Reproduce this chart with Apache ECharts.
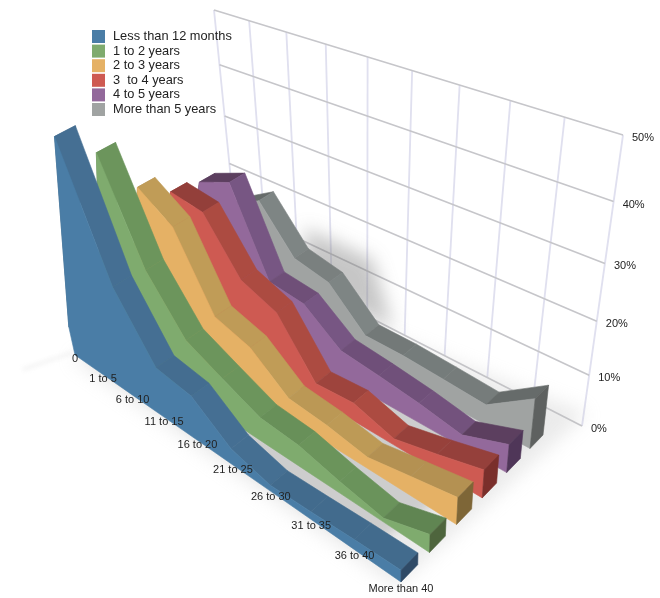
<!DOCTYPE html>
<html>
<head>
<meta charset="utf-8">
<style>html,body{margin:0;padding:0;background:#fff}#c{width:660px;height:598px}</style>
<script src="https://cdn.jsdelivr.net/npm/echarts@6/dist/echarts.min.js"></script>
</head>
<body>
<div id="c"></div>
<script>
const categories = ['0','1 to 5','6 to 10','11 to 15','16 to 20','21 to 25','26 to 30','31 to 35','36 to 40','More than 40'];
const yTicks = [0,10,20,30,40,50];
const lessThan12Months = [5,42.5,19.3,8.8,7.9,2.9,1.1,1.4,1.8,2.1];
const oneToTwoYears = [3.6,36.3,18.8,10,7.1,4.3,3.8,2.1,0.7,3.2];
const twoToThreeYears = [2.7,27,23.2,10.7,8.9,3.8,3.2,2,3.4,4.8];
const threeToFourYears = [2.7,23.2,22.7,13.9,11.6,2.7,3.2,1.1,2.9,5];
const fourToFiveYears = [2.7,22.1,25,10.4,9.8,5,4.3,3.4,2.1,5];
const moreThanFiveYears = [2.7,15.2,18.9,11.6,10.4,4.3,4.3,3.9,3.4,8.9];

const seriesDefs = [
  {name:'Less than 12 months', data:lessThan12Months, depth:0, face:'#4A7DA6', top:'#456F93', rise:'#3F6787', end:'#2F4A66'},
  {name:'1 to 2 years', data:oneToTwoYears, depth:1, face:'#7FAB6E', top:'#6C955C', rise:'#608552', end:'#4E653D'},
  {name:'2 to 3 years', data:twoToThreeYears, depth:2, face:'#E5B165', top:'#C09C57', rise:'#B08E50', end:'#7E6637'},
  {name:'3  to 4 years', data:threeToFourYears, depth:3, face:'#CE5A52', top:'#AC4B41', rise:'#933F3A', end:'#7A2F2B'},
  {name:'4 to 5 years', data:fourToFiveYears, depth:4, face:'#93699B', top:'#775683', rise:'#5C3F5F', end:'#4F3658'},
  {name:'More than 5 years', data:moreThanFiveYears, depth:5, face:'#A0A3A2', top:'#7E8584', rise:'#666B6A', end:'#5E6160'}
];

// hidden value scale: 5.6 px per percent, 50 px per category
const GRID = {left:60, top:150, width:450, height:280};
const RIBBON = 0.58, BANDS = 5.58;

// perspective helpers
const tOf = x => x <= 0 ? 0 : x / (x + 1.33 * (9 - x));
const zOf = d => { const z = d / BANDS; return 1.15 * z / (1 + 0.15 * z); };
const floor = (t, z) => {
  const sx = 75 + 150 * z, sy = 355 - 87 * z, ex = 401 + 142 * z, ey = 582 - 147 * z;
  return [sx + t * (ex - sx), sy + t * (ey - sy)];
};
const VP = [391, 1787];
const lift = (b, h) => [b[0] - (VP[0] - b[0]) / (VP[1] - b[1]) * h, b[1] - h];
const WALL = {tl:[214,10], tr:[623,135], br:[582,426], bl:[238,250]};
const fOf = v => { const a = v / 50; return a / (a + 1.185 * (1 - a)); };
const mix = (p, q, a) => [p[0] + (q[0] - p[0]) * a, p[1] + (q[1] - p[1]) * a];
const wall = (t, f) => mix(mix(WALL.bl, WALL.br, t), mix(WALL.tl, WALL.tr, t), f);
const rgb = h => [1,3,5].map(i => parseInt(h.substr(i,2),16));
const blend = (c1, c2, a) => {
  const p = rgb(c1), q = rgb(c2);
  return 'rgb(' + p.map((v, i) => Math.round(v + (q[i] - v) * a)).join(',') + ')';
};

const unit = (api, cat, val) => {
  const p = api.coord([cat, val]);
  return {t: tOf((p[0] - GRID.left) / GRID.width * 9), h: GRID.top + GRID.height - p[1]};
};
const poly = (pts, fill) => ({
  type:'polygon', shape:{points:pts},
  style:{fill, stroke:fill, lineWidth:0.6}
});
const line = (a, b, color, w) => ({
  type:'line', shape:{x1:a[0], y1:a[1], x2:b[0], y2:b[1]},
  style:{stroke:color, lineWidth:w, fill:null}
});
const label = (x, y, text, align) => ({
  type:'text', x, y,
  style:{text, fill:'#222', fontSize:11, fontFamily:'"Liberation Sans",Arial,sans-serif', align, verticalAlign:'middle'}
});
// a polygon drawn off-canvas so that only its blurred shadow lands on the page
const softShadow = (pts, color, blur) => ({
  type:'polygon', shape:{points:pts.map(p => [p[0] - 1500, p[1]])},
  style:{fill:'#000', shadowColor:color, shadowBlur:blur, shadowOffsetX:1500, shadowOffsetY:0}
});

const series = [];

// wall grid
series.push({
  type:'custom', name:'wall', silent:true, z:1, data:yTicks.map(v => [0, v]),
  renderItem(params, api) {
    const v = api.value(1), kids = [];
    const f = fOf(v);
    const L = wall(0, f), R = wall(1, f);
    kids.push(line(L, R, '#C6C6CA', 1.6));
    if (params.dataIndex === 0) {
      categories.forEach((c, i) => {
        const t = tOf(i);
        kids.unshift(line(wall(t, 0), wall(t, 1), '#E0E0EF', 1.8));
      });
    }
    kids.push(label(R[0] + 9, R[1] + 3, v + '%', 'left'));
    return {type:'group', children:kids};
  }
});

// soft shadows on wall and floor
series.push({
  type:'custom', name:'shadow', silent:true, z:2, data:[[0,0]],
  renderItem() {
    const wallShadow = [wall(0.2,0), wall(0.2,fOf(13)), wall(0.39,fOf(13)), wall(0.45,0)];
    const floorWide = [floor(0,-0.03), floor(1,-0.03), floor(1.05,1.2), floor(0.3,1.05)];
    const floorCore = [floor(0.02,0.04), floor(0.88,0.04), floor(0.98,0.98), floor(0.2,1)];
    const streak = [[22,368],[72,351],[73,354],[24,371]];
    return {type:'group', children:[
      softShadow(wallShadow, 'rgba(120,120,120,0.42)', 18),
      softShadow(floorWide, 'rgba(190,190,190,0.30)', 18),
      softShadow(floorCore, 'rgba(200,200,200,0.85)', 10),
      softShadow(streak, 'rgba(200,200,200,0.22)', 4)
    ]};
  }
});

// bands, back to front
seriesDefs.slice().reverse().forEach((s, k) => {
  const zF = zOf(s.depth), zB = zOf(s.depth + RIBBON);
  series.push({
    type:'custom', name:s.name, z:3 + k, silent:true,
    itemStyle:{color:s.face},
    data:s.data.map((v, i) => [i, v]),
    renderItem(params, api) {
      const i = params.dataIndex, n = s.data.length;
      const a = unit(api, i, s.data[i]);
      const aF = floor(a.t, zF), aB = floor(a.t, zB);
      if (i === n - 1) {
        const low = [], high = [];
        s.data.forEach((v, j) => {
          const u = unit(api, j, v), b = floor(u.t, zF);
          low.push(b);
          high.unshift(lift(b, u.h));
        });
        return {type:'group', children:[
          poly(low.concat(high), s.face),
          poly([aF, lift(aF, a.h), lift(aB, a.h), aB], s.end)
        ]};
      }
      const b = unit(api, i + 1, s.data[i + 1]);
      const bF = floor(b.t, zF), bB = floor(b.t, zB);
      const drop = s.data[i] - s.data[i + 1];
      let shade = Math.max(0, Math.min(1, (2 - drop) / 4.5));
      if (i === 1 && drop < 1) shade = 1;
      return poly([lift(aF, a.h), lift(aB, a.h), lift(bB, b.h), lift(bF, b.h)], blend(s.top, s.rise, shade));
    }
  });
});

// category labels along the front edge
series.push({
  type:'custom', name:'categories', silent:true, z:20,
  data:categories.map((c, i) => [i, 0]),
  renderItem(params, api) {
    const u = unit(api, params.dataIndex, 0);
    const b = floor(u.t, 0);
    return label(b[0], b[1] + 4 + 3 * u.t, categories[params.dataIndex], 'center');
  }
});

const chart = echarts.init(document.getElementById('c'), null, {renderer:'canvas', width:660, height:598});
chart.setOption({
  animation:false,
  backgroundColor:'#fff',
  grid:Object.assign({show:false}, GRID),
  xAxis:{type:'category', data:categories, boundaryGap:false, show:false},
  yAxis:{type:'value', min:0, max:50, interval:10, show:false},
  legend:{
    show:true, orient:'vertical', left:87, top:25, itemWidth:13, itemHeight:13, itemGap:1.6,
    icon:'rect', selectedMode:false,
    data:seriesDefs.map(s => s.name),
    textStyle:{fontSize:12.8, color:'#222', fontFamily:'"Liberation Sans",Arial,sans-serif', padding:[0,0,0,3]}
  },
  series
});
</script>
</body>
</html>
